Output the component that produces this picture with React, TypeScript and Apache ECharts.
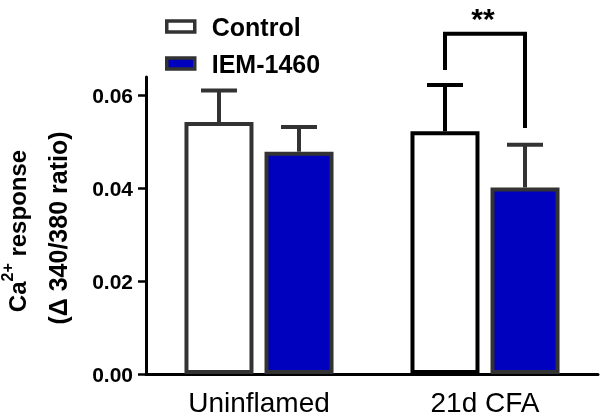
import React, { useEffect, useRef } from "react";
import * as echarts from "echarts";

const categories = ["Uninflamed", "21d CFA"];
const seriesNames = ["Control", "IEM-1460"];
const controlMeans = [0.0543, 0.0523];
const controlErrs = [0.0068, 0.0100];
const iemMeans = [0.0479, 0.0402];
const iemErrs = [0.0053, 0.0092];
const controlEdge = ["#333333", "#000000"];
const iemEdge = ["#333333", "#333333"];
const yTicks = [0, 0.02, 0.04, 0.06];
// bracket: [category index, left leg bottom, top, right leg bottom, label]
const sigBrackets: [number, number, number, number, string][] = [[1, 0.0655, 0.0733, 0.053, "**"]];

const FONT = "Liberation Sans, Arial, sans-serif";
const BAR_W = 69;
const HALF_STEP = 40;

export default function App() {
  const ref = useRef<HTMLDivElement>(null);
  useEffect(() => {
    if (!ref.current) return;
    const chart = echarts.init(ref.current, null, { renderer: "svg" });

    const errData: any[] = [];
    controlMeans.forEach((m, i) => errData.push([i, m, controlErrs[i], -1, controlEdge[i]]));
    iemMeans.forEach((m, i) => errData.push([i, m, iemErrs[i], 1, iemEdge[i]]));

    const option: any = {
      animation: false,
      grid: { left: 146, right: 2, top: 77, bottom: 38, containLabel: false },
      legend: {
        data: seriesNames,
        orient: "vertical",
        left: 160,
        top: 9,
        itemWidth: 28,
        itemHeight: 11,
        itemGap: 12,
        icon: "rect",
        itemStyle: { borderWidth: 3.5, borderColor: "#333333" },
        textStyle: { fontFamily: FONT, fontSize: 25, fontWeight: "bold", color: "#000", padding: [0, 0, 0, 12] },
      },
      xAxis: {
        type: "category",
        data: categories,
        axisTick: { show: false },
        axisLine: { lineStyle: { color: "#000", width: 3 } },
        axisLabel: { fontFamily: FONT, fontSize: 28, color: "#000", margin: 14 },
      },
      yAxis: {
        type: "value",
        min: 0,
        max: 0.064,
        interval: 0.02,
        splitLine: { show: false },
        axisLine: { show: true, lineStyle: { color: "#000", width: 3 } },
        axisTick: { show: true, length: 8, lineStyle: { width: 2.5, color: "#000" }, customValues: yTicks },
        axisLabel: {
          customValues: yTicks,
          fontFamily: FONT,
          fontSize: 21,
          fontWeight: "bold",
          color: "#000",
          margin: 13,
          formatter: (v: number) => v.toFixed(2),
        },
      },
      series: [
        {
          name: seriesNames[0],
          type: "bar",
          barWidth: BAR_W,
          barGap: "16%",
          data: controlMeans.map((v, i) => ({ value: v, itemStyle: { borderColor: controlEdge[i] } })),
          itemStyle: { color: "#ffffff", borderColor: "#333333", borderWidth: 4 },
        },
        {
          name: seriesNames[1],
          type: "bar",
          barWidth: BAR_W,
          barGap: "16%",
          data: iemMeans.map((v, i) => ({ value: v, itemStyle: { borderColor: iemEdge[i] } })),
          itemStyle: { color: "#0000bf", borderColor: "#333333", borderWidth: 4 },
        },
        {
          type: "custom",
          clip: false,
          z: 5,
          data: errData,
          renderItem: (params: any, api: any) => {
            const idx = api.value(0);
            const mean = api.value(1);
            const err = api.value(2);
            const sign = api.value(3);
            const color = errData[params.dataIndex][4];
            const cx = api.coord([idx, 0])[0] + sign * HALF_STEP;
            const yTop = api.coord([idx, mean + err])[1];
            const yBase = api.coord([idx, mean])[1];
            return {
              type: "group",
              children: [
                { type: "line", shape: { x1: cx, y1: yBase, x2: cx, y2: yTop }, style: { stroke: color, lineWidth: 4 } },
                { type: "line", shape: { x1: cx - 18, y1: yTop, x2: cx + 18, y2: yTop }, style: { stroke: color, lineWidth: 4 } },
              ],
            };
          },
        },
        {
          type: "custom",
          clip: false,
          z: 5,
          data: sigBrackets.map((b) => [b[0], b[1], b[2], b[3]]),
          renderItem: (params: any, api: any) => {
            const idx = api.value(0);
            const cx = api.coord([idx, 0])[0];
            const xl = cx - HALF_STEP;
            const xr = cx + HALF_STEP;
            const yl = api.coord([idx, api.value(1)])[1];
            const yt = api.coord([idx, api.value(2)])[1];
            const yr = api.coord([idx, api.value(3)])[1];
            return {
              type: "group",
              children: [
                {
                  type: "polyline",
                  shape: { points: [[xl, yl], [xl, yt], [xr, yt], [xr, yr]] },
                  style: { stroke: "#000", lineWidth: 4, fill: "none" },
                },
                {
                  type: "text",
                  x: cx - 2,
                  y: yt - 15,
                  style: {
                    text: sigBrackets[params.dataIndex][4],
                    fontFamily: FONT,
                    fontSize: 30,
                    lineHeight: 26,
                    fontWeight: "bold",
                    fill: "#000",
                    align: "center",
                    verticalAlign: "middle",
                  },
                },
              ],
            };
          },
        },
      ],
      graphic: [
        {
          type: "text",
          x: 14,
          y: 231,
          rotation: Math.PI / 2,
          style: {
            text: "{b|Ca}{s|2+}{b| response}",
            align: "center",
            verticalAlign: "middle",
            rich: {
              b: { fontFamily: FONT, fontSize: 24, fontWeight: "bold", fill: "#000", verticalAlign: "bottom", lineHeight: 30 },
              s: { fontFamily: FONT, fontSize: 16, fontWeight: "bold", fill: "#000", verticalAlign: "top", lineHeight: 30 },
            },
          },
        },
        {
          type: "text",
          x: 58,
          y: 228,
          rotation: Math.PI / 2,
          style: {
            text: "(\u0394 340/380 ratio)",
            align: "center",
            verticalAlign: "middle",
            fontFamily: FONT,
            fontSize: 25,
            fontWeight: "bold",
            fill: "#000",
          },
        },
      ],
    };
    chart.setOption(option);
    return () => chart.dispose();
  }, []);
  return <div ref={ref} style={{ position: "fixed", left: 0, top: 0, width: 600, height: 416 }} />;
}
